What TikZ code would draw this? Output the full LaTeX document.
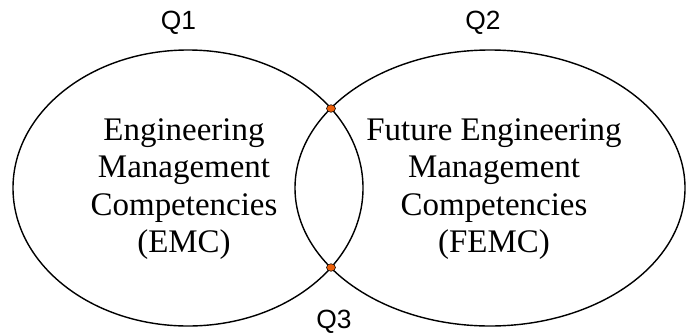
\documentclass[tikz,border=0pt]{standalone}
\usepackage{fontspec}
\setmainfont{Liberation Serif}
\newfontfamily\qfont{Liberation Sans}
\definecolor{meetorange}{RGB}{235,95,10}

\begin{document}
\begin{tikzpicture}[scale=0.2,
  venn/.style={draw=black, line width=1.6pt},
  meet/.style={draw=black, fill=meetorange, line width=0.6pt},
  area/.style={align=center, font=\fontsize{37.5}{42.5}\selectfont},
  qlabel/.style={font=\qfont\fontsize{30}{32}\selectfont}]
  \tikzstyle{every node}+=[inner sep=0pt]
  \useasboundingbox (0,0) rectangle (137.2,-67);
  \draw [venn] (37.6,-37.6) ellipse (35 and 27.6);
  \draw [venn] (98,-37.6) ellipse (39 and 27.6);
  \coordinate (top) at (66.2,-21.7);
  \coordinate (bottom) at (66.2,-53.5);
  \draw [meet] (top) ellipse (0.9 and 0.75);
  \draw [meet] (bottom) ellipse (0.9 and 0.75);
  \node [area] (emc) at (36.8,-37.8) {Engineering\\Management\\Competencies\\(EMC)};
  \node [area] (femc) at (98.8,-37.8) {Future Engineering\\Management\\Competencies\\(FEMC)};
  \node [qlabel] (qone) at (35.7,-4.5) {Q1};
  \node [qlabel] (qtwo) at (96.6,-4.5) {Q2};
  \node [qlabel] (qthree) at (66.8,-64.4) {Q3};
\end{tikzpicture}
\end{document}
